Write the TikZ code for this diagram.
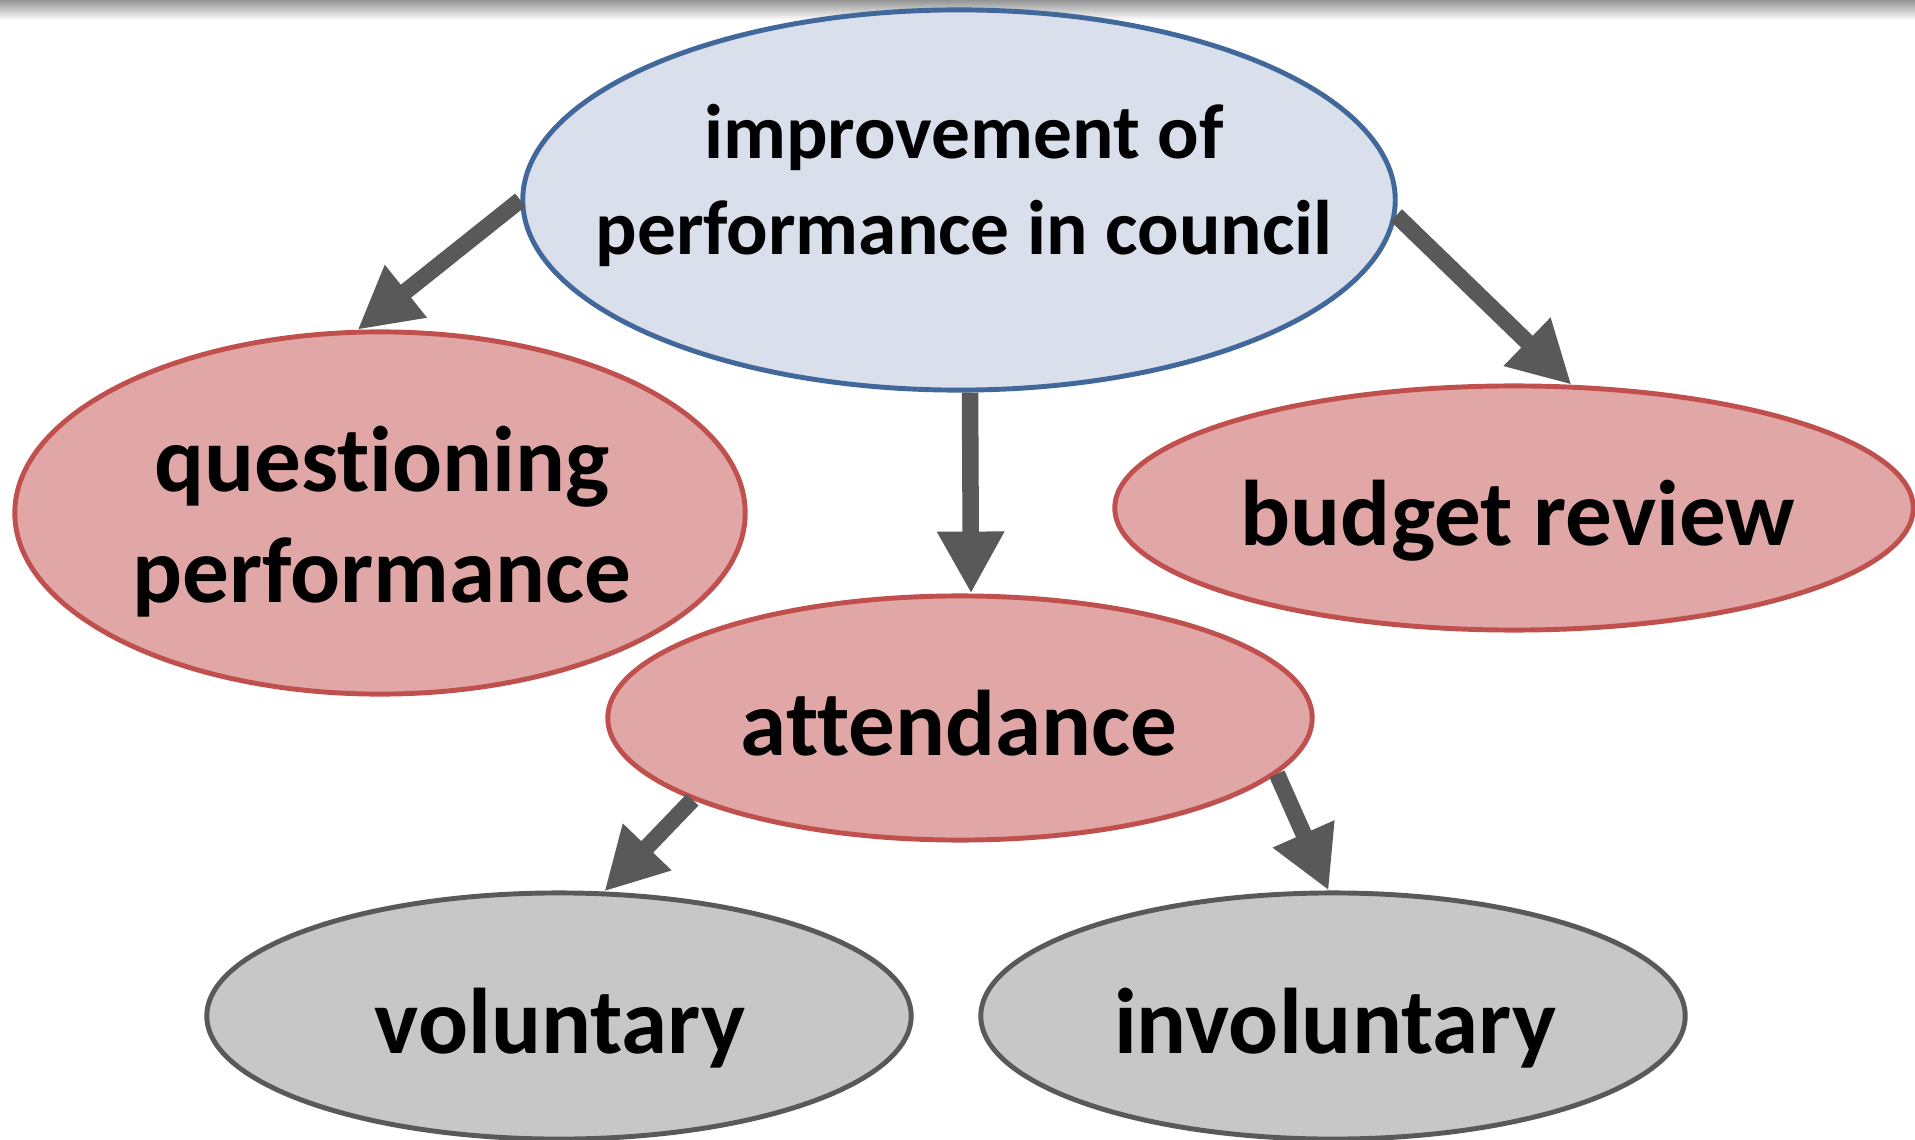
\documentclass[tikz,border=0pt]{standalone}
\usepackage{fontspec}
\setmainfont{Carlito}[Ligatures=NoCommon]
\usetikzlibrary{shapes.geometric,arrows.meta,calc}

\definecolor{topfill}{HTML}{D9DFEB}
\definecolor{topline}{HTML}{41679B}
\definecolor{redfill}{HTML}{E1A6A6}
\definecolor{redline}{HTML}{C0504D}
\definecolor{grayfill}{HTML}{C7C7C7}
\definecolor{grayline}{HTML}{595959}
\definecolor{arrowgray}{HTML}{595959}

\begin{document}
\begin{tikzpicture}[x=0.01cm, y=-0.01cm,
  bubble/.style={ellipse, inner sep=0pt, line width=1.4pt},
  topbubble/.style={bubble, draw=topline, fill=topfill},
  redbubble/.style={bubble, draw=redline, fill=redfill},
  graybubble/.style={bubble, draw=grayline, fill=grayfill},
  smalltext/.style={anchor=base, inner sep=0pt, align=center,
    font=\bfseries\fontsize{22}{27.3}\selectfont},
  bigtext/.style={anchor=base, inner sep=0pt, align=center,
    font=\bfseries\fontsize{26.5}{31.6}\selectfont},
  link/.style={draw=arrowgray, line width=4.7pt,
    -{Triangle[width=17.9pt, length=17.6pt]}}
]
\useasboundingbox (0,0) rectangle (1915,1140);

% soft shadow along the upper edge
\shade[top color=black!42, bottom color=white] (0,0) rectangle (1915,20);

% ellipses
\node[topbubble, minimum width=8.72cm, minimum height=3.80cm] (top) at (959,200) {};
\node[redbubble, minimum width=7.30cm, minimum height=3.62cm] (quest) at (380,513) {};
\node[redbubble, minimum width=7.98cm, minimum height=2.44cm] (budget) at (1514,508) {};
\node[redbubble, minimum width=7.04cm, minimum height=2.44cm] (att) at (960,718) {};
\node[graybubble, minimum width=7.04cm, minimum height=2.46cm] (vol) at (559,1016) {};
\node[graybubble, minimum width=7.04cm, minimum height=2.46cm] (invol) at (1333,1016) {};

% labels (base anchor sits on the last line's baseline)
\node[smalltext] (toptext) at (964,255) {improvement of\\performance in council};
\node[bigtext] (questtext) at (382,603) {questioning\\performance};
\node[bigtext] (budgettext) at (1518,545) {budget review};
\node[bigtext] (atttext) at (959,755) {attendance};
\node[bigtext] (voltext) at (560,1053) {voluntary};
\node[bigtext] (involtext) at (1335,1053) {involuntary};

% connectors
\draw[link] (top.west) -- (quest.97.6);
\draw[link] (top.-2) -- (budget.65);
\draw[link] ([xshift=0.11cm]top.south) -- ([xshift=0.11cm]att.north);
\draw[link] (att.197.8) -- (vol.70.9);
\draw[link] (att.-10.8) -- (invol.92.3);
\end{tikzpicture}
\end{document}
